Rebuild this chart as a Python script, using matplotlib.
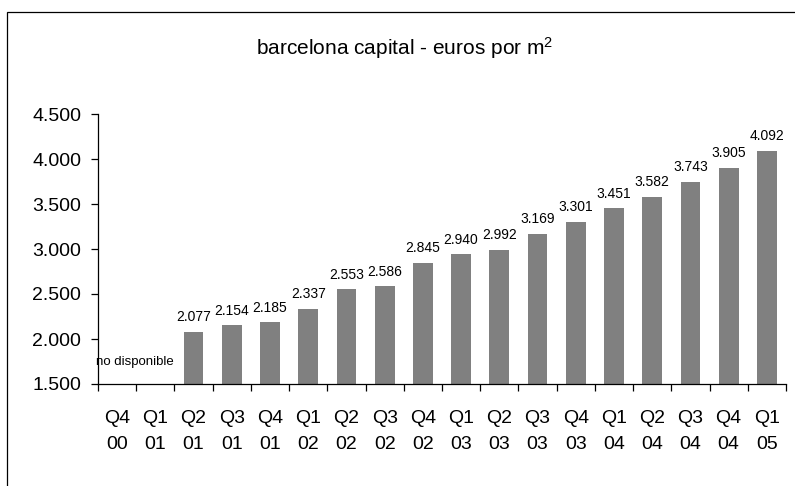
import matplotlib
matplotlib.use("Agg")
import matplotlib.pyplot as plt
from matplotlib.patches import Rectangle
from matplotlib.ticker import FuncFormatter, FixedLocator
import numpy as np

categories = ["Q4\n00", "Q1\n01", "Q2\n01", "Q3\n01", "Q4\n01", "Q1\n02", "Q2\n02", "Q3\n02",
              "Q4\n02", "Q1\n03", "Q2\n03", "Q3\n03", "Q4\n03", "Q1\n04", "Q2\n04", "Q3\n04",
              "Q4\n04", "Q1\n05"]
values = [None, None, 2077, 2154, 2185, 2337, 2553, 2586, 2845, 2940, 2992, 3169, 3301,
          3451, 3582, 3743, 3905, 4092]
yticks = [1500, 2000, 2500, 3000, 3500, 4000, 4500]
title = "barcelona capital - euros por m$^2$"
no_data_text = "no disponible"

plt.rcParams['font.family'] = ['Liberation Sans', 'DejaVu Sans']
plt.rcParams['mathtext.fontset'] = 'custom'
plt.rcParams['mathtext.rm'] = 'Liberation Sans'
plt.rcParams['mathtext.it'] = 'Liberation Sans'
plt.rcParams['mathtext.bf'] = 'Liberation Sans'

W, H = 795, 486
fig = plt.figure(figsize=(W / 100, H / 100), dpi=100)
fig.patches.append(Rectangle((7 / W, -0.1), 1.2, 1 - 12 / H + 0.1, transform=fig.transFigure,
                             fill=False, edgecolor='black', linewidth=0.9))
ax = fig.add_axes([98 / W, 1 - 384 / H, (786 - 98) / W, (384 - 114) / H])

x = np.arange(len(categories))
ymin = yticks[0]
for i, v in enumerate(values):
    if v is None:
        continue
    ax.bar(i, v - ymin, bottom=ymin, width=0.52, color='#808080', edgecolor='none')
    ax.annotate(f"{v:,}".replace(",", "."), xy=(i, v), xytext=(0, 5.5), textcoords='offset points',
                ha='center', va='bottom', fontsize=10)

ax.text(0.47, 1745, no_data_text, ha='center', va='center', fontsize=9.5)

ax.set_xlim(-0.5, len(categories) - 0.5)
ax.set_ylim(yticks[0], yticks[-1])
ax.set_yticks(yticks)
ax.yaxis.set_major_formatter(FuncFormatter(lambda v, p: f"{int(v):,}".replace(",", ".")))
ax.xaxis.set_major_locator(FixedLocator(np.arange(len(categories) + 1) - 0.5))
ax.xaxis.set_major_formatter(FuncFormatter(lambda v, p: ""))
ax.xaxis.set_minor_locator(FixedLocator(x))
ax.set_xticklabels(categories, minor=True)
ax.tick_params(axis='x', which='minor', length=0, labelsize=14, pad=19)
ax.tick_params(axis='x', which='major', length=5, direction='out', width=0.9)
ax.tick_params(axis='y', length=5, direction='out', labelsize=14, pad=7, width=0.9)
for lab in ax.get_xticklabels(minor=True):
    lab.set_linespacing(1.7)
ax.spines['top'].set_visible(False)
ax.spines['right'].set_visible(False)
ax.spines['left'].set_linewidth(0.9)
ax.spines['bottom'].set_linewidth(0.9)

fig.text(405 / W, 1 - 48 / H, title, ha='center', va='center', fontsize=15)

fig.savefig("out.png", dpi=100)
